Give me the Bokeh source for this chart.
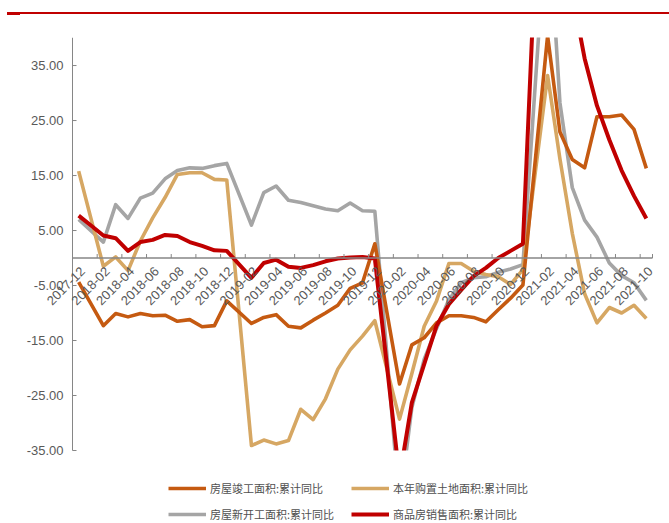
import math
from bokeh.plotting import figure
from bokeh.models import Range1d, Legend, LegendItem, Div, ColumnDataSource
from bokeh.core.properties import value
from bokeh.layouts import column
from bokeh.embed import file_html
from bokeh.resources import INLINE

# Reporting months (January is folded into the Jan-Feb figure, so it has no value)
months = [
    "2017-12",
    "2018-02", "2018-03", "2018-04", "2018-05", "2018-06", "2018-07", "2018-08", "2018-09", "2018-10", "2018-11", "2018-12",
    "2019-02", "2019-03", "2019-04", "2019-05", "2019-06", "2019-07", "2019-08", "2019-09", "2019-10", "2019-11", "2019-12",
    "2020-02", "2020-03", "2020-04", "2020-05", "2020-06", "2020-07", "2020-08", "2020-09", "2020-10", "2020-11", "2020-12",
    "2021-02", "2021-03", "2021-04", "2021-05", "2021-06", "2021-07", "2021-08", "2021-09", "2021-10",
]

# Cumulative year-on-year growth, %
completed_area = [
    -4.4,
    -12.3, -10.1, -10.7, -10.1, -10.5, -10.4, -11.5, -11.2, -12.5, -12.3, -7.8,
    -11.9, -10.8, -10.3, -12.4, -12.7, -11.3, -10.0, -8.6, -5.5, -4.5, 2.6,
    -22.9, -15.8, -14.5, -11.8, -10.5, -10.5, -10.8, -11.6, -9.4, -7.3, -4.9,
    40.4, 22.9, 17.9, 16.4, 25.7, 25.7, 26.0, 23.4, 16.3,
]
land_purchase = [
    15.8,
    -1.5, 0.2, -2.3, 3.1, 7.3, 11.0, 15.2, 15.5, 15.5, 14.3, 14.2,
    -34.1, -33.1, -33.8, -33.2, -27.5, -29.4, -25.6, -20.2, -16.7, -14.2, -11.4,
    -29.3, -21.0, -12.4, -7.8, -1.0, -1.0, -2.4, -3.0, -3.4, -4.8, -2.1,
    33.2, 18.0, 4.5, -6.5, -11.8, -9.0, -10.0, -8.6, -11.0,
]
new_starts = [
    7.0,
    2.9, 9.7, 7.2, 10.9, 11.8, 14.4, 15.9, 16.4, 16.3, 16.8, 17.2,
    6.0, 11.9, 13.1, 10.5, 10.1, 9.5, 8.9, 8.6, 10.0, 8.6, 8.5,
    -44.9, -27.2, -18.4, -12.8, -7.6, -4.5, -3.6, -3.4, -2.6, -2.0, -1.2,
    64.3, 28.2, 12.8, 6.9, 3.8, -0.9, -3.2, -4.5, -7.7,
]
sales_area = [
    7.7,
    4.1, 3.6, 1.3, 2.9, 3.3, 4.2, 4.0, 2.9, 2.2, 1.4, 1.3,
    -3.6, -0.9, -0.3, -1.6, -1.8, -1.3, -0.6, -0.1, 0.1, 0.2, -0.1,
    -39.9, -26.3, -19.3, -12.3, -8.4, -5.8, -3.3, -1.8, 0.0, 1.3, 2.6,
    104.9, 63.8, 48.1, 36.3, 27.7, 21.5, 15.9, 11.3, 7.2,
]

series_names = [
    "房屋竣工面积:累计同比",
    "本年购置土地面积:累计同比",
    "房屋新开工面积:累计同比",
    "商品房销售面积:累计同比",
]

# Axis tick labels: every second month on x, every 10 points on y
tick_labels = ["2017-12"] + [f"{y}-{m:02d}" for y in (2018, 2019, 2020, 2021)
                             for m in range(2, 13, 2) if not (y == 2021 and m > 10)]
y_ticks = [-35, -25, -15, -5, 5, 15, 25, 35]
Y_MIN, Y_MAX = -35, 40.1


def month_index(s):
    y, m = s.split("-")
    return (int(y) - 2017) * 12 + int(m) - 12


xs = [month_index(m) for m in months]
tick_pos = [month_index(t) for t in tick_labels]
n_slots = month_index("2021-10") + 1
x_lo, x_hi = -0.5, n_slots - 0.5

ORANGE = "#C55A11"
TAN = "#D6A763"
GRAY = "#A5A5A5"
RED = "#C00000"
TEXT = "#595959"
AXIS = "#868686"
NUM_FONT = value("'Liberation Sans Narrow', 'Liberation Sans', sans-serif")

# Plot area geometry (pixels inside the figure canvas)
W, H = 669, 506
AX_LEFT, AX_RIGHT, AX_TOP, AX_BOTTOM = 72, 652, 20, 433
px_x = (AX_RIGHT - AX_LEFT) / (x_hi - x_lo)
px_y = (AX_BOTTOM - AX_TOP) / (Y_MAX - Y_MIN)

# The frame covers the whole canvas so that axis and legend texts are never clipped;
# the axes themselves are drawn at the plot-area edges.
p = figure(width=W, height=H, output_backend="svg", toolbar_location=None,
           x_axis_type=None, y_axis_type=None,
           x_range=Range1d(x_lo - AX_LEFT / px_x, x_hi + (W - AX_RIGHT) / px_x),
           y_range=Range1d(Y_MIN - (H - AX_BOTTOM) / px_y, Y_MAX),
           min_border_left=0, min_border_right=0, min_border_top=AX_TOP, min_border_bottom=0)
p.outline_line_color = None
p.grid.visible = False
p.background_fill_color = "white"
p.border_fill_color = "white"

lw = 3.6
r_gray = p.line(xs, new_starts, line_color=GRAY, line_width=lw, line_join="round")
r_tan = p.line(xs, land_purchase, line_color=TAN, line_width=lw, line_join="round")
r_orange = p.line(xs, completed_area, line_color=ORANGE, line_width=lw, line_join="round")
r_red = p.line(xs, sales_area, line_color=RED, line_width=4, line_join="round")

# Values beyond the axis floor are cut off at -35
p.quad(left=x_lo, right=x_hi + (W - AX_RIGHT) / px_x, top=Y_MIN,
       bottom=Y_MIN - (H - AX_BOTTOM) / px_y, fill_color="white", line_color=None)

# Vertical axis: line, inward ticks, fixed two-decimal labels
p.segment(x0=[x_lo], y0=[Y_MIN], x1=[x_lo], y1=[Y_MAX], line_color=AXIS, line_width=1)
p.segment(x0=[x_lo] * len(y_ticks), y0=y_ticks, x1=[x_lo + 4 / px_x] * len(y_ticks), y1=y_ticks,
          line_color=AXIS, line_width=1)
p.text(x=[x_lo] * len(y_ticks), y=y_ticks, text=[f"{t:.2f}" for t in y_ticks],
       x_offset=-9, text_align="right", text_baseline="middle",
       text_font=NUM_FONT, text_font_size="13px", text_color=TEXT)

# Horizontal axis on the zero line, with ticks between every second month
boundaries = [t - 0.5 for t in tick_pos] + [x_hi]
p.segment(x0=[x_lo], y0=[0], x1=[x_hi], y1=[0], line_color=AXIS, line_width=1.5)
p.segment(x0=boundaries, y0=[0] * len(boundaries), x1=boundaries, y1=[4 / px_y] * len(boundaries),
          line_color=AXIS, line_width=1)
label_src = ColumnDataSource(dict(x=tick_pos, y=[0] * len(tick_pos), text=tick_labels))
p.text(x="x", y="y", text="text", source=label_src, angle=math.pi / 4,
       text_align="right", text_baseline="middle", x_offset=4, y_offset=11,
       text_font=NUM_FONT, text_font_size="13px", text_color=TEXT)

legend_style = dict(
    orientation="horizontal",
    glyph_width=38, glyph_height=14, label_standoff=4, spacing=10, label_width=131,
    label_text_font="Noto Sans CJK SC", label_text_font_size="11px", label_text_color="#505050",
    border_line_alpha=0, background_fill_alpha=0, padding=0, margin=0,
)
legend_top = Legend(items=[LegendItem(label=series_names[0], renderers=[r_orange]),
                           LegendItem(label=series_names[1], renderers=[r_tan])],
                    location=(168, 27), **legend_style)
legend_bottom = Legend(items=[LegendItem(label=series_names[2], renderers=[r_gray]),
                              LegendItem(label=series_names[3], renderers=[r_red])],
                       location=(168, 1), **legend_style)
p.add_layout(legend_top)
p.add_layout(legend_bottom)

header = Div(
    text=('<div style="position:relative;width:669px;height:17px;">'
          '<div style="position:absolute;left:7px;top:12px;width:662px;height:2px;background:#C00000;"></div>'
          '<div style="position:absolute;left:7px;top:12px;width:13px;height:3px;background:#C00000;"></div>'
          '</div>'),
    width=669, height=17, margin=(0, 0, 0, 0),
)

layout = column(header, p, spacing=0)
open("out.html", "w").write(file_html(layout, INLINE))
